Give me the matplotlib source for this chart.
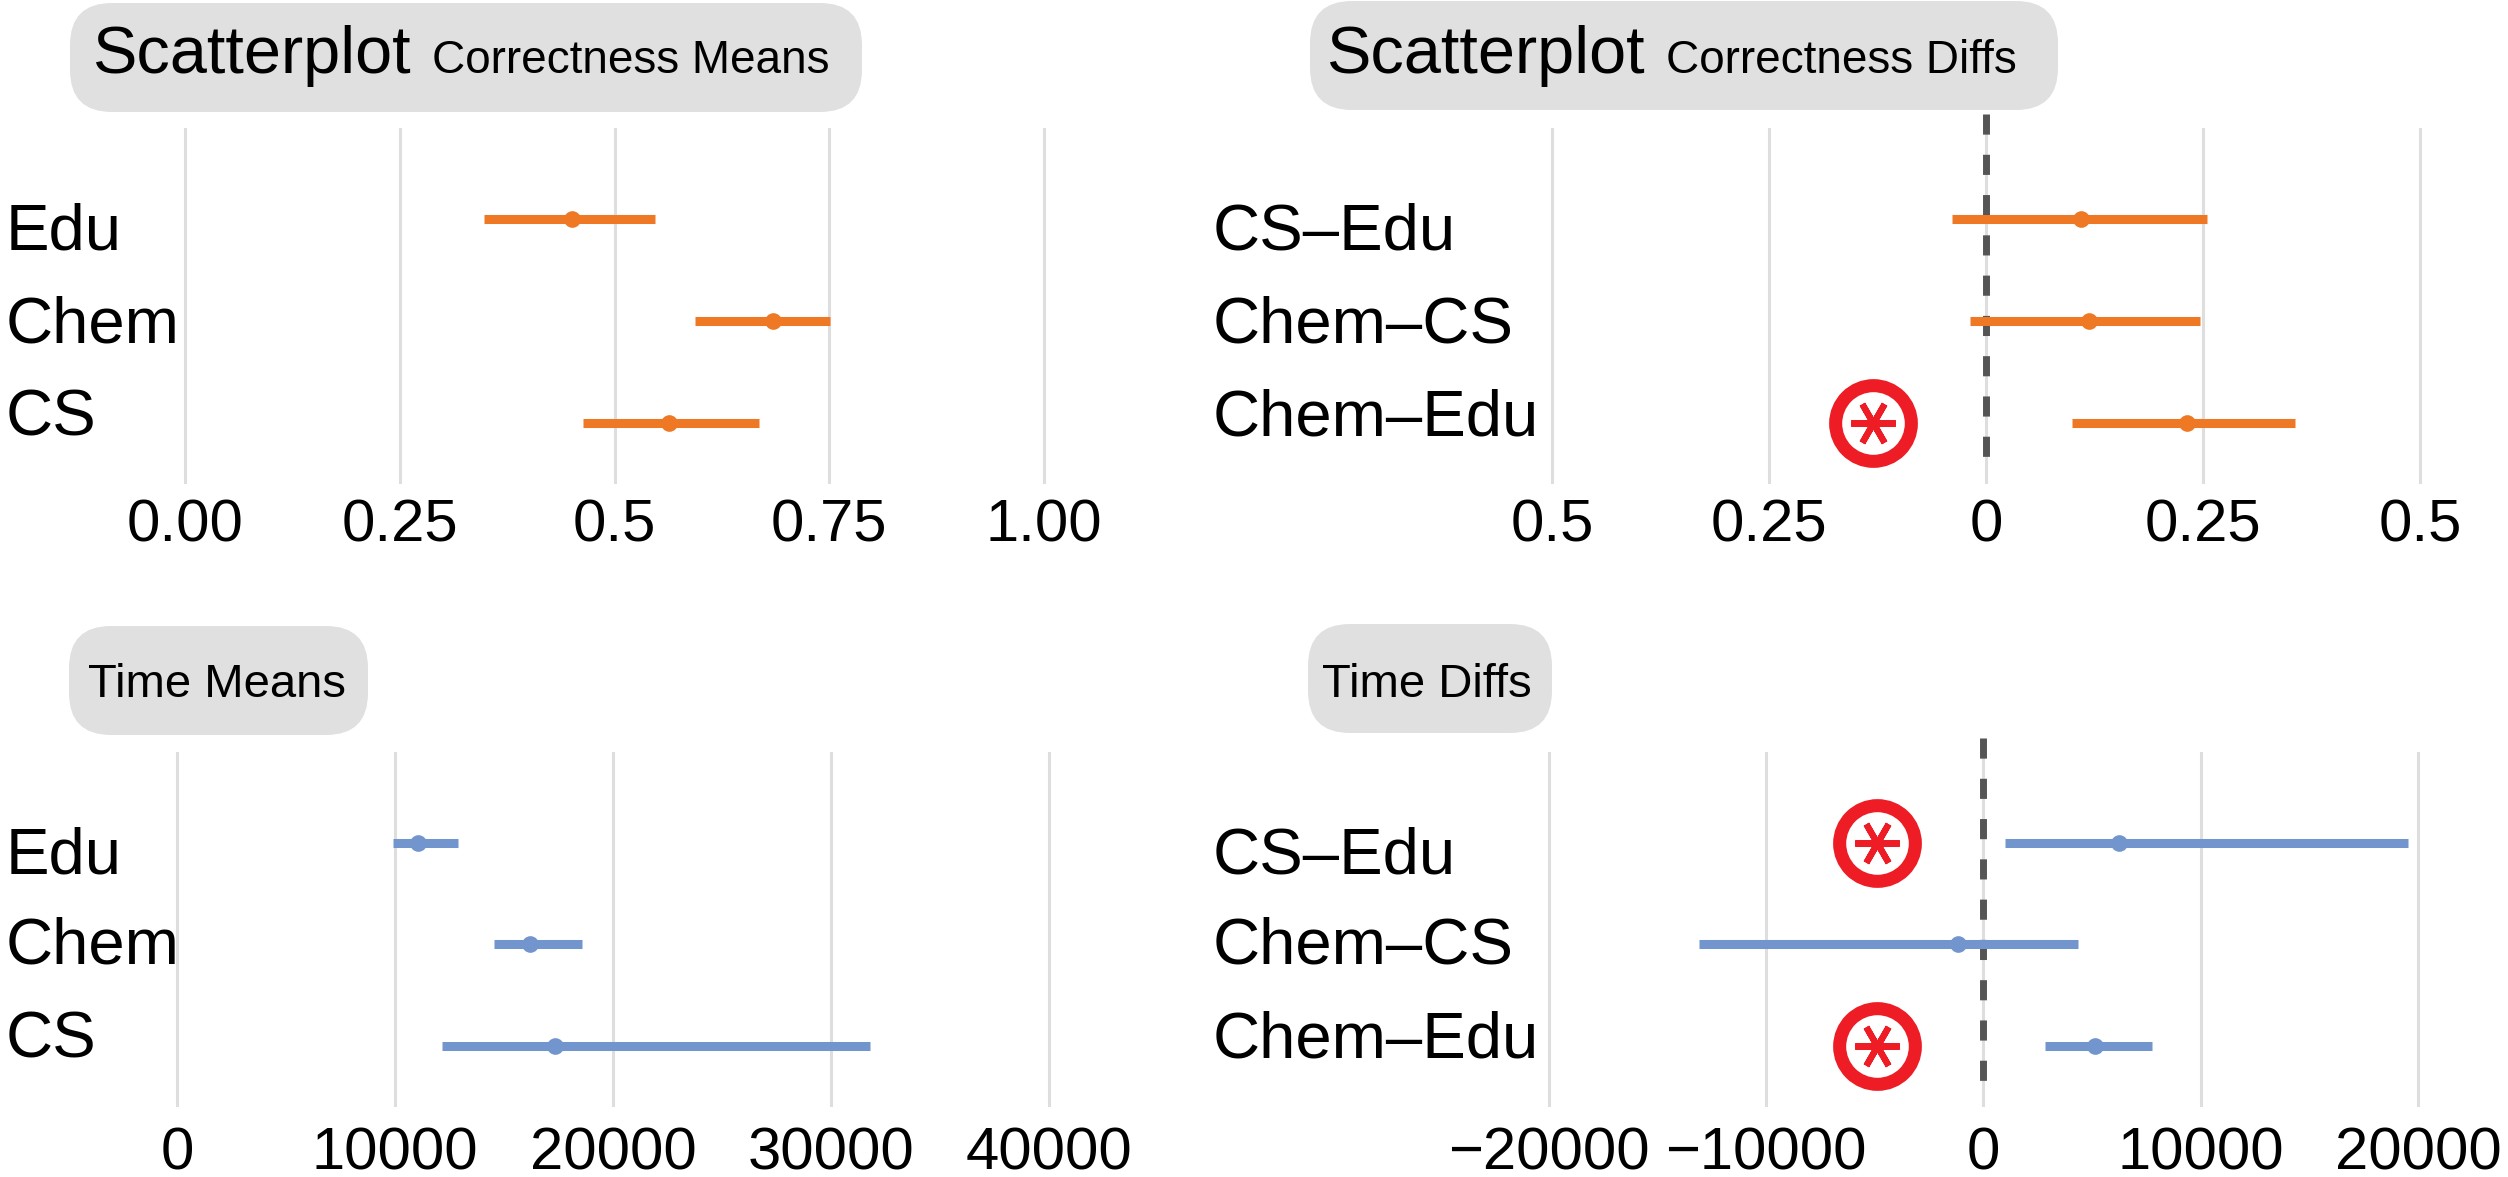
import matplotlib
matplotlib.use('Agg')
import matplotlib.pyplot as plt
from matplotlib.patches import FancyBboxPatch

plt.rcParams['font.family'] = ['Liberation Sans', 'DejaVu Sans']

# ---------------- data ----------------
groups = ['Edu', 'Chem', 'CS']
corr_mean = [0.451, 0.684, 0.563]
corr_lo = [0.348, 0.594, 0.463]
corr_hi = [0.547, 0.751, 0.668]

pairs = ['CS–Edu', 'Chem–CS', 'Chem–Edu']
corr_diff_mean = [0.110, 0.119, 0.231]
corr_diff_lo = [-0.039, -0.018, 0.099]
corr_diff_hi = [0.255, 0.246, 0.356]
corr_sig = [False, False, True]
corr_sig_x = -0.13

time_mean = [11050, 16180, 17360]
time_lo = [9900, 14530, 12150]
time_hi = [12880, 18570, 31780]

time_diff_mean = [6260, -1180, 5120]
time_diff_lo = [990, -13110, 2840]
time_diff_hi = [19560, 4350, 7770]
time_sig = [True, False, True]
time_sig_x = -4900

corr_ticks = [0, 0.25, 0.5, 0.75, 1.0]
corr_ticklabels = ['0.00', '0.25', '0.5', '0.75', '1.00']
corr_diff_ticks = [-0.5, -0.25, 0, 0.25, 0.5]
corr_diff_ticklabels = ['0.5', '0.25', '0', '0.25', '0.5']
time_ticks = [0, 10000, 20000, 30000, 40000]
time_ticklabels = ['0', '10000', '20000', '30000', '40000']
time_diff_ticks = [-20000, -10000, 0, 10000, 20000]
time_diff_ticklabels = ['−20000', '−10000', '0', '10000', '20000']

# ---------------- style ----------------
W, H = 2508, 1177
DPI = 100
ORANGE = '#EE7823'
BLUE = '#7195CC'
RED = '#EE1C25'
GRID = '#DEDEDE'
BOXC = '#E0E0E0'

fig = plt.figure(figsize=(W / DPI, H / DPI), dpi=DPI)


def px_axes(left, top, width, height):
    ax = fig.add_axes([left / W, 1 - (top + height) / H, width / W, height / H])
    ax.patch.set_visible(False)
    return ax


def panel(ax, mean, lo, hi, color, ticks, ticklabels, xlim, pad_px):
    rows = list(range(1, len(mean) + 1))
    ax.set_xlim(*xlim)
    ax.set_ylim(3.6, 0.11)
    for s in ax.spines.values():
        s.set_visible(False)
    ax.set_yticks([])
    ax.set_xticks(ticks)
    ax.set_xticklabels(ticklabels, fontsize=43)
    ax.tick_params(axis='x', length=0, pad=pad_px * 72 / DPI)
    plt.setp(ax.get_xticklabels(), va='baseline')
    ax.grid(axis='x', color=GRID, linewidth=2.2)
    ax.set_axisbelow(True)
    ax.hlines(rows, lo, hi, colors=color, linewidth=6.5, capstyle='butt', zorder=3)
    ax.plot(mean, rows, 'o', color=color, markersize=12, markeredgewidth=0, zorder=4)
    return rows


def sig_marks(ax, rows, sig, xval):
    for r, s in zip(rows, sig):
        if s:
            ax.plot([xval], [r], 'o', markersize=54.5, markerfacecolor='white',
                    markeredgecolor=RED, markeredgewidth=9.4, zorder=5, clip_on=False)
            ax.plot([xval], [r], marker=(6, 2, 90), markersize=32,
                    markeredgecolor=RED, markeredgewidth=4.5, zorder=6, clip_on=False)


def zero_line(ax):
    ax.plot([0, 0], [-0.03, 3.52], color='#555555', linewidth=5,
            linestyle=(0, (2.9, 2.9)), dash_capstyle='butt', zorder=2, clip_on=False)


# top-left: correctness means
ax1 = px_axes(142.05, 128, 944.9, 356)
r1 = panel(ax1, corr_mean, corr_lo, corr_hi, ORANGE, corr_ticks, corr_ticklabels,
           (-0.05, 1.05), 58)

# top-right: correctness diffs
ax2 = px_axes(1508.6, 128, 954.8, 356)
r2 = panel(ax2, corr_diff_mean, corr_diff_lo, corr_diff_hi, ORANGE, corr_diff_ticks,
           corr_diff_ticklabels, (-0.55, 0.55), 58)
zero_line(ax2)
sig_marks(ax2, r2, corr_sig, corr_sig_x)

# bottom-left: time means
ax3 = px_axes(133.4, 752, 959.2, 355)
r3 = panel(ax3, time_mean, time_lo, time_hi, BLUE, time_ticks, time_ticklabels,
           (-2000, 42000), 63)

# bottom-right: time diffs
ax4 = px_axes(1505.55, 752, 955.9, 355)
r4 = panel(ax4, time_diff_mean, time_diff_lo, time_diff_hi, BLUE, time_diff_ticks,
           time_diff_ticklabels, (-22000, 22000), 63)
zero_line(ax4)
sig_marks(ax4, r4, time_sig, time_sig_x)

# ---------------- overlay for titles and category labels ----------------
ov = fig.add_axes([0, 0, 1, 1], zorder=-1)
ov.set_xlim(0, W)
ov.set_ylim(H, 0)
ov.axis('off')


def title_box(x0, y0, x1, y1):
    ov.add_patch(FancyBboxPatch((x0, y0), x1 - x0, y1 - y0,
                                boxstyle='round,pad=0,rounding_size=42',
                                facecolor=BOXC, edgecolor='none'))


title_box(70, 3, 862, 112)
ov.text(92, 73, 'Scatterplot', fontsize=48, va='baseline', ha='left')
ov.text(432, 73, 'Correctness Means', fontsize=33, va='baseline', ha='left')

title_box(1310, 1, 2058, 110)
ov.text(1326, 73, 'Scatterplot', fontsize=48, va='baseline', ha='left')
ov.text(1666, 73, 'Correctness Diffs', fontsize=33, va='baseline', ha='left')

title_box(69, 626, 368, 735)
ov.text(88, 697, 'Time Means', fontsize=34, va='baseline', ha='left')

title_box(1308, 624, 1552, 733)
ov.text(1322, 697, 'Time Diffs', fontsize=34, va='baseline', ha='left')

top_base = [250, 342.5, 435]
bot_base = [873, 964, 1057]
for lab, yb in zip(groups, top_base):
    ov.text(6, yb, lab, fontsize=47, va='baseline', ha='left')
for lab, yb in zip(pairs, top_base):
    ov.text(1213, yb, lab, fontsize=47, va='baseline', ha='left')
for lab, yb in zip(groups, bot_base):
    ov.text(6, yb, lab, fontsize=47, va='baseline', ha='left')
for lab, yb in zip(pairs, bot_base):
    ov.text(1213, yb, lab, fontsize=47, va='baseline', ha='left')

fig.savefig('out.png', dpi=DPI, facecolor='white')
